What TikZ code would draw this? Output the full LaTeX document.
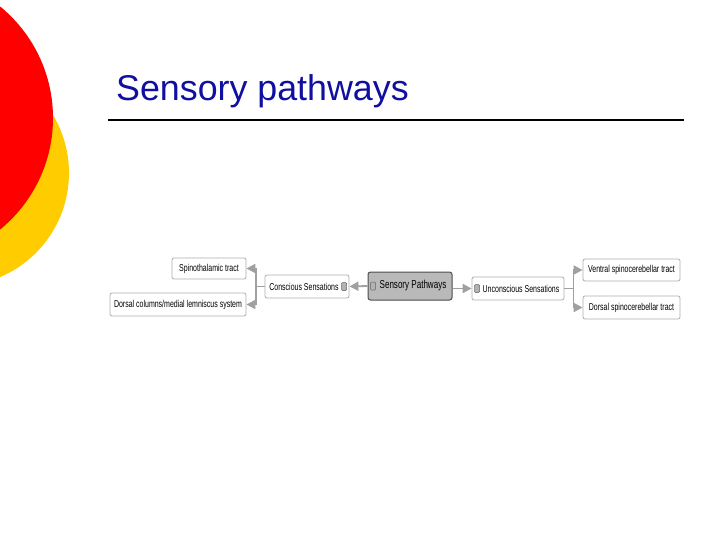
\documentclass[tikz,border=0pt]{standalone}
\usepackage{fontspec}
\setmainfont{Liberation Sans}
\newfontfamily\nodefont[FakeStretch=0.7]{Liberation Sans}
\usetikzlibrary{arrows.meta}
\definecolor{titleblue}{RGB}{16,16,160}
\definecolor{slideyellow}{RGB}{255,204,0}
\definecolor{linegray}{RGB}{160,160,160}
\definecolor{boxgray}{RGB}{185,185,185}
\tikzset{
  mapbox/.style={draw=linegray!85, fill=white, rounded corners=2pt, line width=0.8pt,
    inner sep=0pt, font=\nodefont\fontsize{10}{11}\selectfont},
  rootbox/.style={draw=black!70, fill=boxgray, rounded corners=2.5pt, line width=1pt,
    inner sep=0pt, font=\nodefont\fontsize{11.5}{12}\selectfont},
  iconbox/.style={draw=black!60, fill=gray!60, rounded corners=1pt, minimum width=5pt,
    minimum height=8pt, inner sep=0pt, line width=0.5pt},
  arr/.style={draw=linegray, line width=1.8pt, -{Triangle[length=9pt,width=9pt]}},
  link/.style={draw=linegray, line width=1.8pt}
}
\begin{document}
\begin{tikzpicture}[x=1pt,y=-1pt]
\useasboundingbox (0,0) rectangle (720,540);
\begin{scope}
  \clip (0,0) rectangle (720,540);
  \fill[slideyellow] (-44,173) circle (113pt);
  \fill[red] (-91,118) circle (144pt);
\end{scope}
\node[anchor=base west, text=titleblue, font=\fontsize{35.8}{40}\selectfont, inner sep=0pt] (title) at (116,101) {Sensory pathways};
\coordinate (ruleL) at (108,120);
\coordinate (ruleR) at (684,120);
\draw[line width=2pt] (ruleL) -- (ruleR);

% nodes
\node[rootbox, minimum width=84pt, minimum height=28pt] (SP) at (410,286) {\hspace*{6pt}Sensory Pathways};
\node[iconbox] (iSP) at (373,286) {};
\node[mapbox, minimum width=84pt, minimum height=23pt] (CS) at (307,286.5) {Conscious Sensations\hspace*{6pt}};
\node[iconbox] (iCS) at (344,286.5) {};
\node[mapbox, minimum width=92pt, minimum height=23pt] (US) at (518,288.5) {\hspace*{6pt}Unconscious Sensations};
\node[iconbox] (iUS) at (477,288.5) {};
\node[mapbox, minimum width=74pt, minimum height=21pt] (ST) at (209,268.5) {Spinothalamic tract};
\node[mapbox, minimum width=136pt, minimum height=23pt] (DC) at (178,304.5) {Dorsal columns/medial lemniscus system};
\node[mapbox, minimum width=97pt, minimum height=22pt] (VS) at (631.5,270) {Ventral spinocerebellar tract};
\node[mapbox, minimum width=97pt, minimum height=23pt] (DS) at (631.5,307.5) {Dorsal spinocerebellar tract};

% connectors
\draw[arr] (SP.west) -- (CS.east);
\draw[arr] (SP.east |- US.west) -- (US.west);
\draw[link] (CS.west) -- ++(-9,0) coordinate (jL);
\draw[arr] (jL) |- (ST.east);
\draw[arr] (jL) |- (DC.east);
\draw[link] (US.east) -- ++(9,0) coordinate (jR);
\draw[arr] (jR) |- (VS.west);
\draw[arr] (jR) |- (DS.west);
\end{tikzpicture}
\end{document}
